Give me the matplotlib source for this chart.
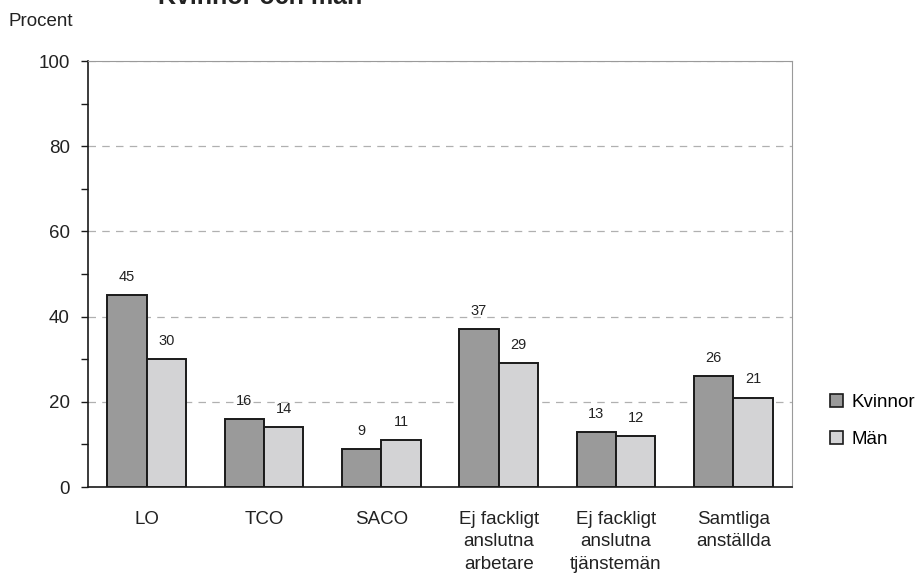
import matplotlib.pyplot as plt
import numpy as np

plt.rcParams['font.family'] = ['Liberation Sans', 'DejaVu Sans']

categories = ['LO', 'TCO', 'SACO', 'Ej fackligt\nanslutna\narbetare',
              'Ej fackligt\nanslutna\ntjänstemän', 'Samtliga\nanställda']
kvinnor = [45, 16, 9, 37, 13, 26]
man = [30, 14, 11, 29, 12, 21]
yticks = [0, 20, 40, 60, 80, 100]

fig = plt.figure(figsize=(9.22, 5.84), dpi=100)
ax = fig.add_axes([88 / 922, 1 - 487 / 584, (792 - 88) / 922, (487 - 61) / 584])

x = np.arange(len(categories))
w = 0.335
b1 = ax.bar(x - w / 2, kvinnor, w, color='#9a9a9a', edgecolor='#1a1a1a', linewidth=1.4,
            label='Kvinnor', zorder=3)
b2 = ax.bar(x + w / 2, man, w, color='#d3d3d5', edgecolor='#1a1a1a', linewidth=1.4,
            label='Män', zorder=3)

for bars, vals in ((b1, kvinnor), (b2, man)):
    for r, v in zip(bars, vals):
        ax.annotate(str(v), (r.get_x() + r.get_width() / 2, v), xytext=(0, 8),
                    textcoords='offset points', ha='center', va='bottom', fontsize=10.5,
                    color='#222222')

ax.set_xlim(-0.5, len(categories) - 0.5)
ax.set_ylim(0, 100)
ax.set_yticks(yticks)
ax.set_yticks(range(10, 100, 20), minor=True)
ax.tick_params(axis='y', which='both', direction='out', length=5, width=1, labelsize=13.5,
               pad=8, color='#1a1a1a')
ax.set_xticks(x)
ax.set_xticklabels(categories, fontsize=13.5, linespacing=1.45, color='#222222')
ax.tick_params(axis='x', length=0, pad=17)
for t in ax.get_yticklabels():
    t.set_color('#222222')

ax.grid(axis='y', linestyle=(0, (6, 5)), color='#b0b0b0', linewidth=0.9, zorder=0)
ax.spines['left'].set_color('#1a1a1a')
ax.spines['bottom'].set_color('#1a1a1a')
ax.spines['left'].set_linewidth(1.2)
ax.spines['bottom'].set_linewidth(1.2)
ax.spines['top'].set_color('#9a9a9a')
ax.spines['right'].set_color('#9a9a9a')

leg = fig.legend(handles=[b1, b2], loc='center left', bbox_to_anchor=(813 / 922, 1 - 421 / 584),
                 frameon=False, fontsize=13.5, handlelength=0.7, handleheight=0.7,
                 handletextpad=0.45, labelspacing=1.05)
for h in leg.legend_handles:
    h.set_linewidth(1.2)

fig.text(8 / 922, 1 - 22 / 584, 'Procent', fontsize=13.5, va='center', color='#222222')
fig.text(260 / 922, 1 - 4 / 584, 'Kvinnor och män', fontsize=18, fontweight='bold',
         ha='center', va='baseline', color='#222222')

fig.savefig('out.png', dpi=100)
